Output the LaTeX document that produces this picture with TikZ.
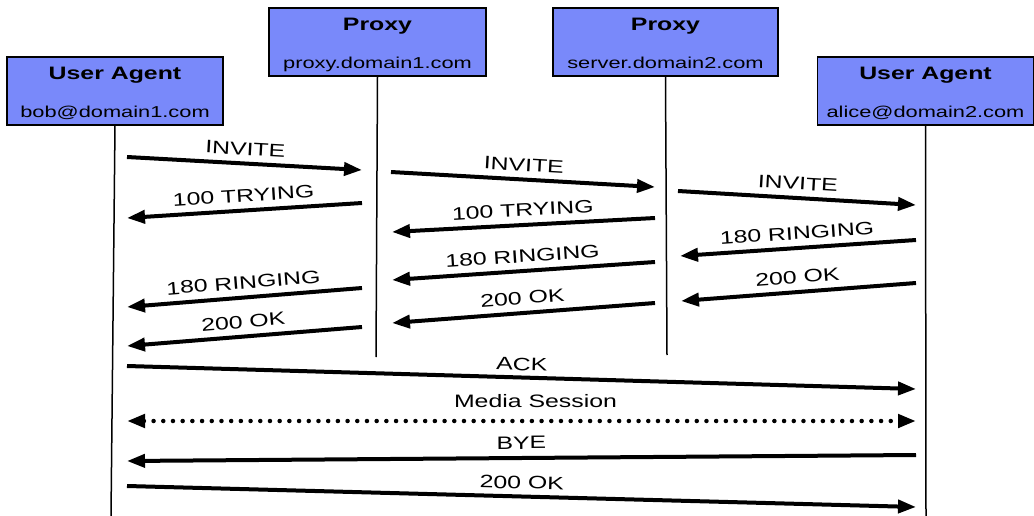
\documentclass[tikz,border=0pt]{standalone}
\usepackage{fontspec}
\setmainfont{Liberation Sans}[FakeStretch=1.38]
\usetikzlibrary{arrows.meta,calc}
\definecolor{agentblue}{RGB}{121,137,250}
\newcommand{\titlefont}{\fontsize{18}{20}\selectfont\bfseries}
\newcommand{\addrfont}{\fontsize{15.8}{18}\selectfont}
\newcommand{\lblfont}{\fontsize{18}{20}\selectfont}
\begin{document}
\begin{tikzpicture}[x=1pt,y=-1pt,
  actor/.style={draw=black, line width=1.5pt, fill=agentblue, rectangle, inner sep=0pt},
  title/.style={anchor=base, inner sep=0pt, font=\titlefont},
  addr/.style={anchor=base, inner sep=0pt, font=\addrfont},
  lifeline/.style={draw=black, line width=1.5pt},
  tip/.tip={Triangle[length=18pt,width=13pt]},
  msg/.style={line width=4pt, -tip},
  media/.style={line width=4.5pt, line cap=round, dash pattern=on 0pt off 9.7pt, tip-tip},
  lbl/.style={midway, sloped, above=#1, inner sep=0pt, font=\lblfont},
  lbl/.default=6.5pt]
\useasboundingbox (0,0) rectangle (1034,516);

% participants
\node[actor, minimum width=216pt, minimum height=68pt] (bob)   at (115,91)   {};
\node[actor, minimum width=217pt, minimum height=68pt] (px1)   at (377.5,42) {};
\node[actor, minimum width=225pt, minimum height=68pt] (px2)   at (665.5,42) {};
\node[actor, minimum width=216pt, minimum height=68pt] (alice) at (925.5,91) {};

\node[title] (bobT)   at ($(bob.north)+(0,23)$)   {User Agent};
\node[addr]  (bobA)   at ($(bob.north)+(0,61)$)   {bob@domain1.com};
\node[title] (px1T)   at ($(px1.north)+(0,23)$)   {Proxy};
\node[addr]  (px1A)   at ($(px1.north)+(0,61)$)   {proxy.domain1.com};
\node[title] (px2T)   at ($(px2.north)+(0,23)$)   {Proxy};
\node[addr]  (px2A)   at ($(px2.north)+(0,61)$)   {server.domain2.com};
\node[title] (aliceT) at ($(alice.north)+(0,23)$) {User Agent};
\node[addr]  (aliceA) at ($(alice.north)+(0,61)$) {alice@domain2.com};

% lifelines
\coordinate (bobEnd)   at (111,516);
\coordinate (px1End)   at (376,357);
\coordinate (px2End)   at (667,355);
\coordinate (aliceEnd) at (926,516);
\draw[lifeline] (bob.south)   -- (bobEnd);
\draw[lifeline] (px1.south)   -- (px1End);
\draw[lifeline] (px2.south)   -- (px2End);
\draw[lifeline] (alice.south) -- (aliceEnd);

% message end points
\coordinate (m1a)  at (127,157); \coordinate (m1b)  at (362,170);
\coordinate (m2a)  at (362,203); \coordinate (m2b)  at (127,218);
\coordinate (m3a)  at (391,172); \coordinate (m3b)  at (655,187);
\coordinate (m4a)  at (655,218); \coordinate (m4b)  at (392,232);
\coordinate (m5a)  at (678,191); \coordinate (m5b)  at (916,205);
\coordinate (m6a)  at (916,240); \coordinate (m6b)  at (680,256);
\coordinate (m7a)  at (655,262); \coordinate (m7b)  at (392,280);
\coordinate (m8a)  at (916,283); \coordinate (m8b)  at (681,301);
\coordinate (m9a)  at (362,288); \coordinate (m9b)  at (127,307);
\coordinate (m10a) at (655,303); \coordinate (m10b) at (392,323);
\coordinate (m11a) at (362,327); \coordinate (m11b) at (127,346);
\coordinate (m12a) at (127,366); \coordinate (m12b) at (916,389);
\coordinate (m13a) at (127,421); \coordinate (m13b) at (916,421);
\coordinate (m14a) at (916,455); \coordinate (m14b) at (127,461);
\coordinate (m15a) at (127,486); \coordinate (m15b) at (916,507);

% messages
\draw[msg] (m1a)  -- node[lbl] {INVITE} (m1b);
\draw[msg] (m2a)  -- node[lbl] {100 TRYING} (m2b);
\draw[msg] (m3a)  -- node[lbl] {INVITE} (m3b);
\draw[msg] (m4a)  -- node[lbl] {100 TRYING} (m4b);
\draw[msg] (m5a)  -- node[lbl] {INVITE} (m5b);
\draw[msg] (m6a)  -- node[lbl] {180 RINGING} (m6b);
\draw[msg] (m7a)  -- node[lbl] {180 RINGING} (m7b);
\draw[msg] (m8a)  -- node[lbl] {200 OK} (m8b);
\draw[msg] (m9a)  -- node[lbl] {180 RINGING} (m9b);
\draw[msg] (m10a) -- node[lbl] {200 OK} (m10b);
\draw[msg] (m11a) -- node[lbl] {200 OK} (m11b);
\draw[msg] (m12a) -- node[lbl=5pt] {ACK} (m12b);
\draw[media] (m13a) -- node[lbl=11pt, xshift=14pt] {Media Session} (m13b);
\draw[msg] (m14a) -- node[lbl=7pt] {BYE} (m14b);
\draw[msg] (m15a) -- node[lbl=5.5pt] {200 OK} (m15b);
\end{tikzpicture}
\end{document}
